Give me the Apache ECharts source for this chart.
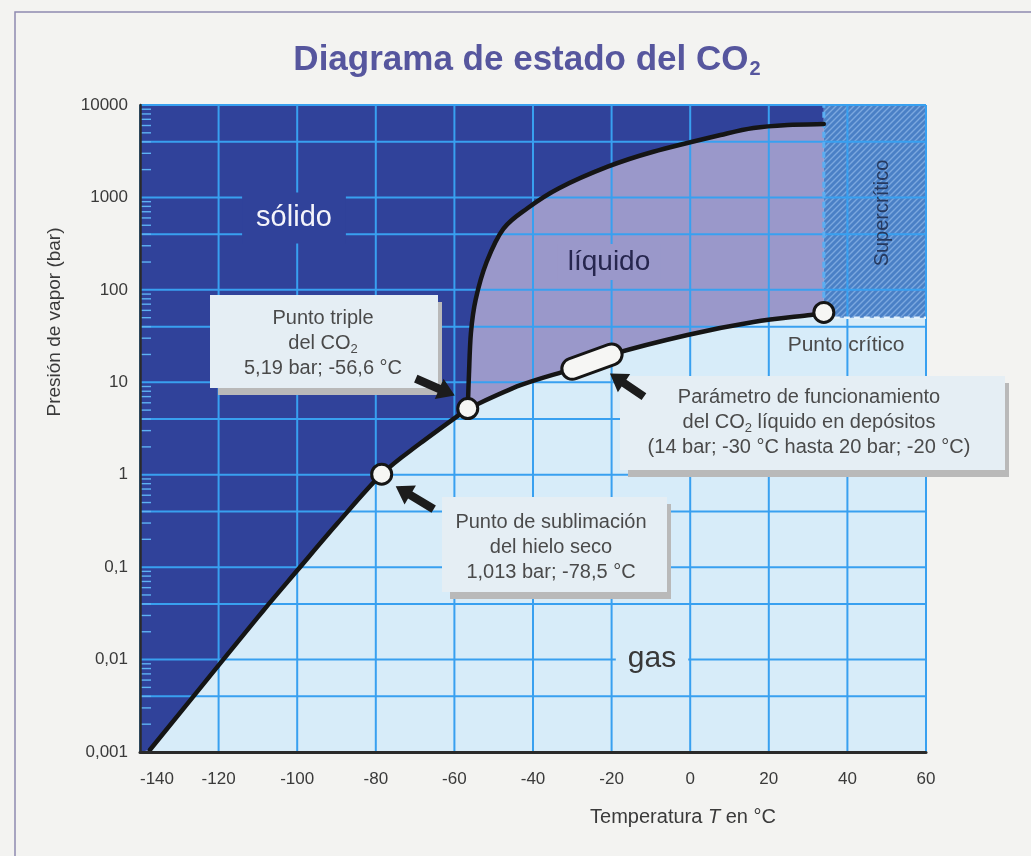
<!DOCTYPE html>
<html>
<head>
<meta charset="utf-8">
<title>Diagrama de estado del CO2</title>
<script src="https://cdn.jsdelivr.net/npm/echarts@6/dist/echarts.min.js"></script>
<style>
  html, body { margin: 0; padding: 0; background: #f3f3f1; }
  #chart { width: 1031px; height: 856px; }
</style>
</head>
<body>
<div id="chart"></div>
<script>
// ---- Ejes ----
const xTicks = [-140, -120, -100, -80, -60, -40, -20, 0, 20, 40, 60];
const yTicks = [0.001, 0.01, 0.1, 1, 10, 100, 1000, 10000];
const yTickLabels = ['0,001', '0,01', '0,1', '1', '10', '100', '1000', '10000'];
const yMidLines = [0.004, 0.04, 0.4, 4, 40, 400, 4000];

// ---- Curva de sublimación (T en °C, p en bar) ----
const subT = [-137.5, -119.5, -108.6, -99.9, -89.7, -78.5, -68.6, -56.6];
const subP = [0.00105, 0.0092, 0.034, 0.093, 0.30, 1.013, 2.2, 5.19];

// ---- Curva de fusión ----
const fusT = [-56.6, -56.3, -55.8, -54.6, -51.8, -47.5, -41.5, -33.5, -21.0, -9.4, 7.7, 16.1, 24.8, 34];
const fusP = [5.19, 12, 34, 78, 200, 460, 760, 1250, 2150, 3120, 4735, 5640, 6080, 6220];

// ---- Curva de vaporización ----
const vapT = [-56.6, -43.2, -30, -20, -0.7, 16.1, 30.6, 34];
const vapP = [5.19, 9.3, 14, 20, 32.5, 44.9, 53.5, 57];

// ---- Puntos destacados ----
const puntoTriple = [-56.6, 5.19];
const puntoSublimacion = [-78.5, 1.013];
const puntoCritico = [34, 57];
const funcionamientoT = [-30, -20];
const funcionamientoP = [14, 20];
const supercriticoT = [34, 60];
const supercriticoP = [50, 10000];

const xMin = xTicks[0], xMax = xTicks[xTicks.length - 1];
const yMin = yTicks[0], yMax = yTicks[yTicks.length - 1];

const zip = (a, b) => a.map((v, i) => [v, b[i]]);
const sublimacion = zip(subT, subP);
const fusion = zip(fusT, fusP);
const vaporizacion = zip(vapT, vapP);

// trama rayada de la zona supercrítica
const hatch = document.createElement('canvas');
hatch.width = 6; hatch.height = 6;
(function () {
  const g = hatch.getContext('2d');
  g.fillStyle = '#4a80c6';
  g.fillRect(0, 0, 6, 6);
  g.strokeStyle = '#7ca8df';
  g.lineWidth = 1.4;
  g.beginPath();
  g.moveTo(-1, 7); g.lineTo(7, -1);
  g.moveTo(-4, 4); g.lineTo(4, -4);
  g.moveTo(2, 10); g.lineTo(10, 2);
  g.stroke();
})();

// tramo suave (Catmull-Rom -> Bézier) sobre puntos en píxeles
function tramo(pts, start) {
  let d = (start ? 'M' : 'L') + pts[0][0] + ',' + pts[0][1];
  for (let i = 0; i < pts.length - 1; i++) {
    const p0 = pts[Math.max(i - 1, 0)], p1 = pts[i], p2 = pts[i + 1], p3 = pts[Math.min(i + 2, pts.length - 1)];
    const c1 = [p1[0] + (p2[0] - p0[0]) / 6, p1[1] + (p2[1] - p0[1]) / 6];
    const c2 = [p2[0] - (p3[0] - p1[0]) / 6, p2[1] - (p3[1] - p1[1]) / 6];
    d += 'C' + c1[0] + ',' + c1[1] + ' ' + c2[0] + ',' + c2[1] + ' ' + p2[0] + ',' + p2[1];
  }
  return d;
}
const lin = (p) => 'L' + p[0] + ',' + p[1];

const GRID = '#38a0f0';
const SOLIDO = '#30429a';
const LIQUIDO = '#9a98ca';
const GAS = '#d7ecf9';

function renderDiagrama(params, api) {
  const c = (p) => api.coord(p);
  const sub = sublimacion.map(c), fus = fusion.map(c), vap = vaporizacion.map(c);
  const bl = c([xMin, yMin]), tr = c([xMax, yMax]);
  const ch = [];

  // gas: todo el fondo del gráfico
  ch.push({ type: 'rect', shape: { x: bl[0], y: tr[1], width: tr[0] - bl[0], height: bl[1] - tr[1] },
    style: { fill: GAS } });

  // sólido
  const fusEnd = fusion[fusion.length - 1];
  const dSol = 'M' + bl[0] + ',' + bl[1] + tramo(sub, false) + tramo(fus, false).replace(/^L[^C]*/, '')
    + lin(c([fusEnd[0], yMax])) + lin(c([xMin, yMax])) + 'Z';
  ch.push({ type: 'path', shape: { pathData: dSol }, style: { fill: SOLIDO } });

  // líquido
  const vapRev = vap.slice().reverse();
  const dLiq = tramo(fus, true) + lin(c(puntoCritico)) + tramo(vapRev, false).replace(/^L[^C]*/, '') + 'Z';
  ch.push({ type: 'path', shape: { pathData: dLiq }, style: { fill: LIQUIDO } });

  // supercrítico
  const s0 = c([supercriticoT[0], supercriticoP[1]]), s1 = c([supercriticoT[1], supercriticoP[0]]);
  ch.push({ type: 'rect', shape: { x: s0[0], y: s0[1], width: s1[0] - s0[0], height: s1[1] - s0[1] },
    style: { fill: { image: hatch, repeat: 'repeat' } } });

  // cuadrícula
  xTicks.forEach((t) => {
    const a = c([t, yMin]), b = c([t, yMax]);
    ch.push({ type: 'line', shape: { x1: a[0], y1: a[1], x2: b[0], y2: b[1] }, style: { stroke: GRID, lineWidth: 2 } });
  });
  yTicks.concat(yMidLines).forEach((p) => {
    const a = c([xMin, p]), b = c([xMax, p]);
    ch.push({ type: 'line', shape: { x1: a[0], y1: a[1], x2: b[0], y2: b[1] }, style: { stroke: GRID, lineWidth: 2 } });
  });
  // marcas menores del eje logarítmico
  for (let e = 0; e < yTicks.length - 1; e++) {
    for (let k = 2; k <= 9; k++) {
      const a = c([xMin, yTicks[e] * k]);
      ch.push({ type: 'line', shape: { x1: a[0], y1: a[1], x2: a[0] + 11, y2: a[1] },
        style: { stroke: '#5fb2f2', lineWidth: 1.4 } });
    }
  }

  // bordes discontinuos de la zona supercrítica
  const v0 = c([supercriticoT[0], supercriticoP[0]]), v1 = c([supercriticoT[0], supercriticoP[1]]);
  ch.push({ type: 'line', shape: { x1: v0[0], y1: v0[1], x2: v1[0], y2: v1[1] },
    style: { stroke: '#5aaef2', lineWidth: 3, lineDash: [6, 4] } });
  const h1 = c([supercriticoT[1], supercriticoP[0]]);
  ch.push({ type: 'line', shape: { x1: v0[0], y1: v0[1], x2: h1[0], y2: h1[1] },
    style: { stroke: '#e4f2fc', lineWidth: 2.5, lineDash: [6, 4] } });

  // curvas de equilibrio
  const curva = { fill: null, stroke: '#151515', lineWidth: 4.5, lineJoin: 'round', lineCap: 'round' };
  [sub, fus, vap].forEach((pts) => ch.push({ type: 'path', shape: { pathData: tramo(pts, true) }, style: curva }));

  // zona de funcionamiento (cápsula)
  const f0 = c([funcionamientoT[0], funcionamientoP[0]]), f1 = c([funcionamientoT[1], funcionamientoP[1]]);
  ch.push({ type: 'line', shape: { x1: f0[0], y1: f0[1], x2: f1[0], y2: f1[1] },
    style: { stroke: '#151515', lineWidth: 24, lineCap: 'round' } });
  ch.push({ type: 'line', shape: { x1: f0[0], y1: f0[1], x2: f1[0], y2: f1[1] },
    style: { stroke: '#f6f6f4', lineWidth: 18, lineCap: 'round' } });

  // puntos
  [puntoTriple, puntoSublimacion, puntoCritico].forEach((p) => {
    const q = c(p);
    ch.push({ type: 'circle', shape: { cx: q[0], cy: q[1], r: 10 },
      style: { fill: '#f6f6f4', stroke: '#151515', lineWidth: 3 } });
  });
  return { type: 'group', children: ch };
}

const chart = echarts.init(document.getElementById('chart'), null, { renderer: 'canvas' });
const FONT = "'Liberation Sans', Arial, sans-serif";

chart.setOption({
  animation: false,
  backgroundColor: '#f3f3f1',
  grid: { left: 140, right: 105, top: 105, bottom: 104, containLabel: false },
  xAxis: {
    type: 'value', min: xMin, max: xMax, interval: 20, z: 5,
    axisLine: { show: true, onZero: false, lineStyle: { color: '#2a2a2a', width: 3 } },
    axisTick: { show: false },
    splitLine: { show: false },
    axisLabel: { margin: 19, fontSize: 17, color: '#3a3a3a', fontFamily: FONT, alignMinLabel: 'left' }
  },
  yAxis: {
    type: 'log', logBase: 10, min: yMin, max: yMax, z: 5,
    axisLine: { show: true, onZero: false, lineStyle: { color: '#2a2a2a', width: 2.5 } },
    axisTick: { show: false },
    splitLine: { show: false },
    minorTick: { show: false },
    axisLabel: {
      margin: 12, fontSize: 17, color: '#3a3a3a', fontFamily: FONT,
      formatter: (v) => yTickLabels[Math.round(Math.log10(v)) + 3]
    }
  },
  series: [{
    type: 'custom', name: 'Diagrama de fases', z: 1, silent: true, clip: false,
    coordinateSystem: 'cartesian2d',
    data: [puntoTriple],
    renderItem: renderDiagrama
  }]
});

// ---- Textos y anotaciones ----
const px = (p) => chart.convertToPixel({ gridIndex: 0 }, p);

function flecha(tail, tip) {
  const dx = tip[0] - tail[0], dy = tip[1] - tail[1], L = Math.hypot(dx, dy);
  const ux = dx / L, uy = dy / L, nx = -uy, ny = ux;
  const hl = 17, hw = 11, sw = 4.2;
  const bx = tip[0] - ux * hl, by = tip[1] - uy * hl;
  return {
    type: 'polygon', z: 120,
    shape: { points: [
      [tail[0] + nx * sw, tail[1] + ny * sw], [bx + nx * sw, by + ny * sw], [bx + nx * hw, by + ny * hw],
      tip, [bx - nx * hw, by - ny * hw], [bx - nx * sw, by - ny * sw], [tail[0] - nx * sw, tail[1] - ny * sw]] },
    style: { fill: '#1c1c1c' }
  };
}
const desplaza = (p, d) => [p[0] + d[0], p[1] + d[1]];

const richSub = { sub: { font: '13px ' + FONT, fill: '#4a4a4a', verticalAlign: 'bottom', padding: [10, 0, 0, 0] } };

function caja(x, y, w, h, cx, cy, texto) {
  return [
    { type: 'rect', z: 110, shape: { x: x + 8, y: y + 7, width: w - 4, height: h }, style: { fill: '#b9b9b9' } },
    { type: 'rect', z: 111, shape: { x: x, y: y, width: w, height: h }, style: { fill: '#e5eef4' } },
    { type: 'text', z: 112, x: cx, y: cy, style: {
        text: texto, fill: '#4a4a4a', font: '20px ' + FONT, align: 'center', verticalAlign: 'middle',
        lineHeight: 25, rich: richSub } }
  ];
}

const pT = px(puntoTriple), pS = px(puntoSublimacion);
const fA = px([funcionamientoT[0], funcionamientoP[0]]), fB = px([funcionamientoT[1], funcionamientoP[1]]);
const pF = [(fA[0] + fB[0]) / 2, (fA[1] + fB[1]) / 2];

const etiqueta = (txt, x, y, opts) => ({ type: 'text', z: 105, x: x, y: y,
  style: Object.assign({ text: txt, align: 'center', verticalAlign: 'middle' }, opts) });

chart.setOption({
  graphic: [
    // marco de la página
    { type: 'polyline', z: 1, shape: { points: [[15, 856], [15, 12], [1031, 12]] },
      style: { stroke: '#8f8ab0', lineWidth: 1.5, fill: null } },
    // título
    { type: 'text', z: 105, x: 527, y: 60, style: {
        text: 'Diagrama de estado del CO{s|2}', align: 'center', verticalAlign: 'middle',
        font: 'bold 35px ' + FONT, fill: '#56569e',
        rich: { s: { font: 'bold 20px ' + FONT, fill: '#56569e', verticalAlign: 'bottom', padding: [19, 0, 0, 1] } } } },
    // nombres de los ejes
    { type: 'text', z: 105, x: 55, y: 322, rotation: Math.PI / 2, style: {
        text: 'Presión de vapor (bar)', align: 'center', verticalAlign: 'middle',
        font: '19px ' + FONT, fill: '#3a3a3a' } },
    { type: 'text', z: 105, x: 683, y: 817, style: {
        text: 'Temperatura {i|T} en °C', align: 'center', verticalAlign: 'middle',
        font: '20px ' + FONT, fill: '#3a3a3a',
        rich: { i: { font: 'italic 20px ' + FONT, fill: '#3a3a3a' } } } },
    // nombres de las fases
    etiqueta('sólido', 294, 218, { font: '29px ' + FONT, fill: '#f4f4fa', backgroundColor: SOLIDO, padding: [11, 14, 11, 14] }),
    etiqueta('líquido', 609, 262, { font: '28px ' + FONT, fill: '#26264e', backgroundColor: LIQUIDO, padding: [4, 10, 4, 10] }),
    etiqueta('gas', 652, 659, { font: '30px ' + FONT, fill: '#383838', backgroundColor: GAS, padding: [6, 12, 6, 12] }),
    { type: 'text', z: 105, x: 882, y: 213, rotation: Math.PI / 2, style: {
        text: 'Supercrítico', align: 'center', verticalAlign: 'middle', font: '20px ' + FONT, fill: '#26395f' } },
    etiqueta('Punto crítico', 846, 345, { font: '21px ' + FONT, fill: '#4a4a4a' }),
    // anotaciones
    ...caja(210, 295, 228, 93, 323, 343, 'Punto triple\ndel CO{sub|2}\n5,19 bar; -56,6 °C'),
    ...caja(442, 497, 225, 95, 551, 547, 'Punto de sublimación\ndel hielo seco\n1,013 bar; -78,5 °C'),
    ...caja(620, 376, 385, 94, 809, 422, 'Parámetro de funcionamiento\ndel CO{sub|2} líquido en depósitos\n(14 bar; -30 °C hasta 20 bar; -20 °C)'),
    // flechas
    flecha(desplaza(pT, [-52, -30]), desplaza(pT, [-13, -13])),
    flecha(desplaza(pS, [52, 35]), desplaza(pS, [14, 12])),
    flecha(desplaza(pF, [52, 35]), desplaza(pF, [18, 12]))
  ]
});
</script>
</body>
</html>
